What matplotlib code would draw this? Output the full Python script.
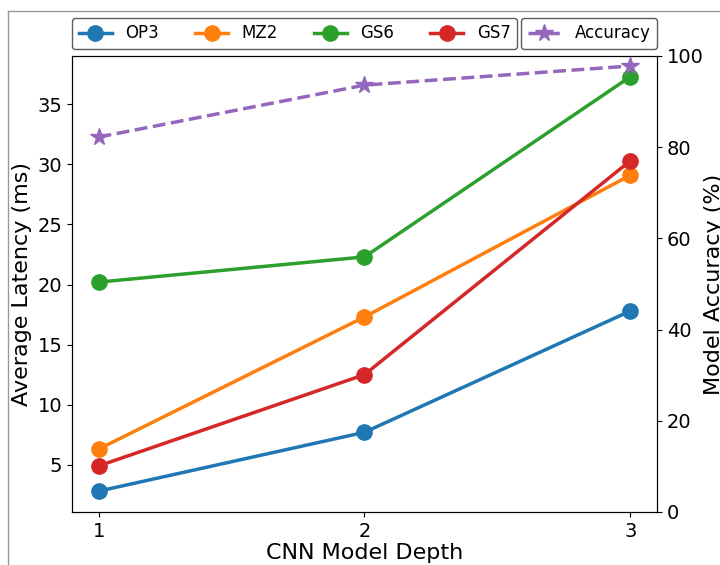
import matplotlib
matplotlib.use("Agg")
import matplotlib.pyplot as plt
from matplotlib.lines import Line2D

# data
depth = [1, 2, 3]
op3 = [2.8, 7.7, 17.8]
mz2 = [6.3, 17.3, 29.1]
gs6 = [20.2, 22.3, 37.3]
gs7 = [4.9, 12.5, 30.3]
accuracy = [82.2, 93.6, 97.8]

fig = plt.figure(figsize=(7.2, 5.65), dpi=100)
ax = fig.add_axes([0.1, 0.094, 0.8125, 0.807])

lines = []
for vals, name, col in [(op3, 'OP3', 'tab:blue'), (mz2, 'MZ2', 'tab:orange'),
                        (gs6, 'GS6', 'tab:green'), (gs7, 'GS7', 'tab:red')]:
    l, = ax.plot(depth, vals, marker='o', markersize=11, linewidth=2.5,
                 color=col, label=name)
    lines.append(l)

ax.set_xticks(depth)
ax.set_xlabel('CNN Model Depth', fontsize=16, labelpad=2)
ax.set_ylabel('Average Latency (ms)', fontsize=16)
ax.tick_params(labelsize=14)

ax2 = ax.twinx()
acc, = ax2.plot(depth, accuracy, marker='*', markersize=13, linewidth=2.5,
                linestyle='--', color='tab:purple', label='Accuracy')
ax2.set_ylim(0, 100)
ax2.set_ylabel('Model Accuracy (%)', fontsize=16, labelpad=0)
ax2.tick_params(labelsize=14)

leg1 = ax.legend(handles=lines, loc='lower left', bbox_to_anchor=(0, 1.015),
                 ncol=4, fontsize=12, borderaxespad=0, edgecolor='#333333',
                 handlelength=2, columnspacing=2.15)
leg2 = ax2.legend(handles=[acc], loc='lower right', bbox_to_anchor=(1, 1.015),
                  fontsize=12, borderaxespad=0, edgecolor='#333333')

# screenshot border
fig.add_artist(Line2D([0.011, 1], [0.98, 0.98], color='#999999', lw=1))
fig.add_artist(Line2D([0.011, 0.011], [0, 0.98], color='#999999', lw=1))

fig.savefig('out.png', dpi=100)
